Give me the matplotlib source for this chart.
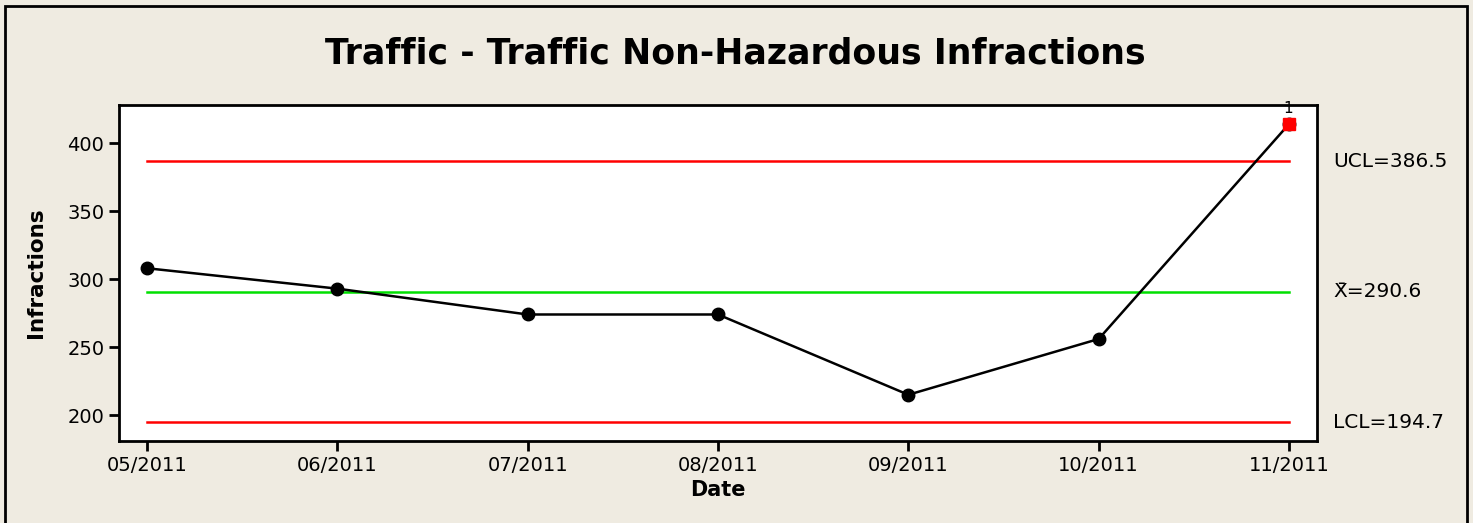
import matplotlib
matplotlib.use("Agg")
import matplotlib.pyplot as plt
from matplotlib.patches import Rectangle

dates = ["05/2011", "06/2011", "07/2011", "08/2011", "09/2011", "10/2011", "11/2011"]
values = [308, 293, 274, 274, 215, 256, 414]
ucl = 386.5
center = 290.6
lcl = 194.7
out_of_control = [6]
yticks = [200, 250, 300, 350, 400]

W, H = 1473, 523
fig = plt.figure(figsize=(W / 100, H / 100), dpi=100)
bg = "#efebe1"
fig.patch.set_facecolor(bg)
plt.rcParams['font.family'] = ['DejaVu Sans']

fig.patches.append(Rectangle((5 / W, -0.02), 1462 / W, (H - 6) / H + 0.02,
                             transform=fig.transFigure, fill=False,
                             edgecolor="black", linewidth=2))

ax = fig.add_axes([119 / W, 1 - 441 / H, (1317 - 119) / W, (441 - 105) / H])
ax.set_facecolor("white")
x = list(range(len(values)))
ax.plot([0, len(values) - 1], [ucl, ucl], color="#ff0000", lw=1.8)
ax.plot([0, len(values) - 1], [lcl, lcl], color="#ff0000", lw=1.8)
ax.plot([0, len(values) - 1], [center, center], color="#00e000", lw=1.8)
ax.plot(x, values, color="black", lw=1.8, marker="o", ms=9, zorder=3)
for i in out_of_control:
    ax.plot([i], [values[i]], marker="s", color="#ff0000", ms=9, ls="none", zorder=4)
    ax.annotate("1", (i, values[i]), xytext=(-1, 5.5), textcoords="offset points",
                fontsize=11, ha="center", va="bottom", annotation_clip=False)

ax.set_xlim(-0.147, len(values) - 1 + 0.147)
ax.set_ylim(181, 428)
ax.set_xticks(x)
ax.set_xticklabels(dates)
ax.set_yticks(yticks)
ax.tick_params(axis="both", direction="out", length=7.5, width=2, labelsize=14, pad=3)
for s in ax.spines.values():
    s.set_linewidth(2)

ax.set_xlabel("Date", fontsize=15, fontweight="bold", labelpad=4)
ax.set_ylabel("Infractions", fontsize=15.5, fontweight="bold", labelpad=15)

fig.text(735 / W, 1 - 54 / H, "Traffic - Traffic Non-Hazardous Infractions",
         fontsize=25, fontweight="bold", ha="center", va="center")

tr = ax.get_yaxis_transform()
xr = 1.0 + (1333 - 1317) / (1317 - 119)
ax.text(xr, ucl, "UCL=386.5", transform=tr, fontsize=14.5, va="center", ha="left")
ax.text(xr, center, "X\u0304=290.6", transform=tr, fontsize=14.5, va="center", ha="left")
ax.text(xr, lcl, "LCL=194.7", transform=tr, fontsize=14.5, va="center", ha="left")

fig.savefig("out.png", dpi=100, facecolor=bg)
